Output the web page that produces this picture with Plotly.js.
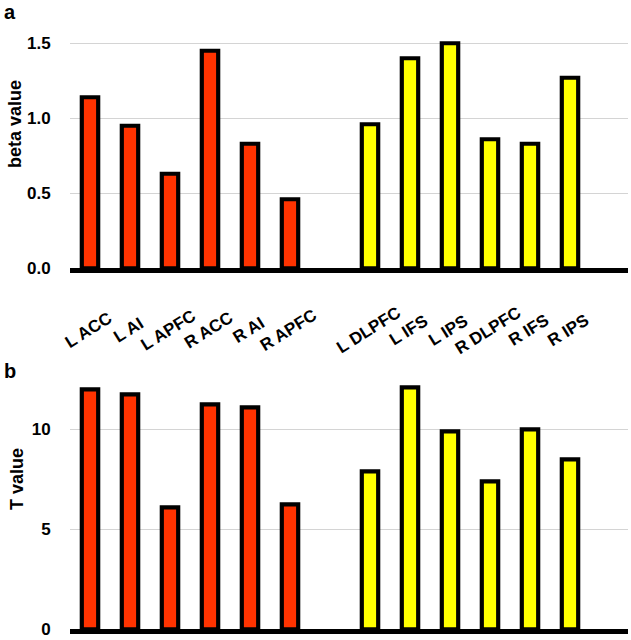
<!DOCTYPE html>
<html>
<head>
<meta charset="utf-8">
<script src="https://cdn.plot.ly/plotly-3.0.1.min.js"></script>
<style>
  html, body { margin: 0; padding: 0; background: #fff; }
  #chart { width: 631px; height: 640px; }
</style>
</head>
<body>
<div id="chart"></div>
<script>
// regions: first group drawn red, second group drawn yellow
const redRegions = ['L ACC', 'L AI', 'L APFC', 'R ACC', 'R AI', 'R APFC'];
const yellowRegions = ['L DLPFC', 'L IFS', 'L IPS', 'R DLPFC', 'R IFS', 'R IPS'];

// panel a: beta values
const betaRed = [1.14, 0.95, 0.63, 1.45, 0.83, 0.46];
const betaYellow = [0.96, 1.40, 1.50, 0.86, 0.83, 1.27];

// panel b: T values
const tRed = [12.0, 11.75, 6.1, 11.25, 11.1, 6.25];
const tYellow = [7.9, 12.1, 9.9, 7.4, 10.0, 8.5];

// slot positions: one empty slot between the groups
const xRed = redRegions.map((_, i) => i);
const xYellow = yellowRegions.map((_, i) => i + redRegions.length + 1);

const RED = '#ff3300';
const YELLOW = '#ffff00';
const font = 'Liberation Sans, Arial, sans-serif';
const topDomain = [0.5808, 0.9547];
const bottomDomain = [0.0165, 0.4071];

function bars(x, y, color, yaxis) {
  return {
    type: 'bar',
    x: x,
    y: y,
    xaxis: yaxis === 'y' ? 'x' : 'x2',
    yaxis: yaxis,
    width: 0.41,
    marker: { color: color, line: { color: '#000', width: 4.2 } },
    hoverinfo: 'x+y',
    showlegend: false
  };
}

const traces = [
  bars(xRed, betaRed, RED, 'y'),
  bars(xYellow, betaYellow, YELLOW, 'y'),
  bars(xRed, tRed, RED, 'y2'),
  bars(xYellow, tYellow, YELLOW, 'y2')
];

const xBase = {
  range: [-0.5, 13.45],
  showline: true,
  linecolor: '#000',
  linewidth: 5,
  showgrid: false,
  zeroline: false,
  showticklabels: false,
  ticks: '',
  fixedrange: true
};

const yBase = {
  showline: false,
  zeroline: false,
  showgrid: true,
  gridcolor: '#d4d4d4',
  gridwidth: 1,
  ticks: 'outside',
  ticklen: 15,
  tickcolor: 'rgba(0,0,0,0)',
  ticklabeloverflow: 'allow',
  tickfont: { family: font, size: 17, color: '#000', weight: 'bold' },
  fixedrange: true
};

// rotated category labels, centred under each bar like the original
const labelFont = { family: font, size: 17, color: '#000', weight: 'bold' };
const categoryLabels = redRegions.concat(yellowRegions).map((name, i) => ({
  text: name,
  x: xRed.concat(xYellow)[i] - 0.05,
  xref: 'x',
  y: topDomain[0],
  yref: 'paper',
  yshift: -62,
  xanchor: 'center',
  yanchor: 'middle',
  textangle: -32,
  showarrow: false,
  font: labelFont
}));

const titleFont = { family: font, size: 18, color: '#000', weight: 'bold' };

const layout = {
  width: 631,
  height: 640,
  margin: { l: 70, r: 3, t: 0, b: 0 },
  paper_bgcolor: '#fff',
  plot_bgcolor: '#fff',
  font: { family: font, color: '#000' },
  xaxis: Object.assign({}, xBase, { anchor: 'y' }),
  xaxis2: Object.assign({}, xBase, { anchor: 'y2' }),
  yaxis: Object.assign({}, yBase, {
    domain: topDomain,
    range: [0, 1.595],
    tickvals: [0, 0.5, 1.0, 1.5],
    ticktext: ['0.0', '0.5', '1.0', '1.5']
  }),
  yaxis2: Object.assign({}, yBase, {
    domain: bottomDomain,
    range: [0, 12.5],
    tickvals: [0, 5, 10]
  }),
  annotations: categoryLabels.concat([
    { text: 'beta value', x: 0, y: 1, xref: 'paper', yref: 'paper', xanchor: 'center', yanchor: 'middle',
      xshift: -55, yshift: -124, textangle: -90, showarrow: false, font: titleFont },
    { text: 'T value', x: 0, y: 1, xref: 'paper', yref: 'paper', xanchor: 'center', yanchor: 'middle',
      xshift: -53, yshift: -479, textangle: -90, showarrow: false, font: titleFont },
    { text: 'a', x: 0, y: 1, xref: 'paper', yref: 'paper', xanchor: 'left', yanchor: 'top',
      xshift: -68, yshift: 1, showarrow: false, font: { family: font, size: 20, weight: 'bold', color: '#000' } },
    { text: 'b', x: 0, y: 1, xref: 'paper', yref: 'paper', xanchor: 'left', yanchor: 'top',
      xshift: -68, yshift: -358, showarrow: false, font: { family: font, size: 20, weight: 'bold', color: '#000' } }
  ])
};

Plotly.newPlot('chart', traces, layout, { displayModeBar: false, staticPlot: true });
</script>
</body>
</html>
